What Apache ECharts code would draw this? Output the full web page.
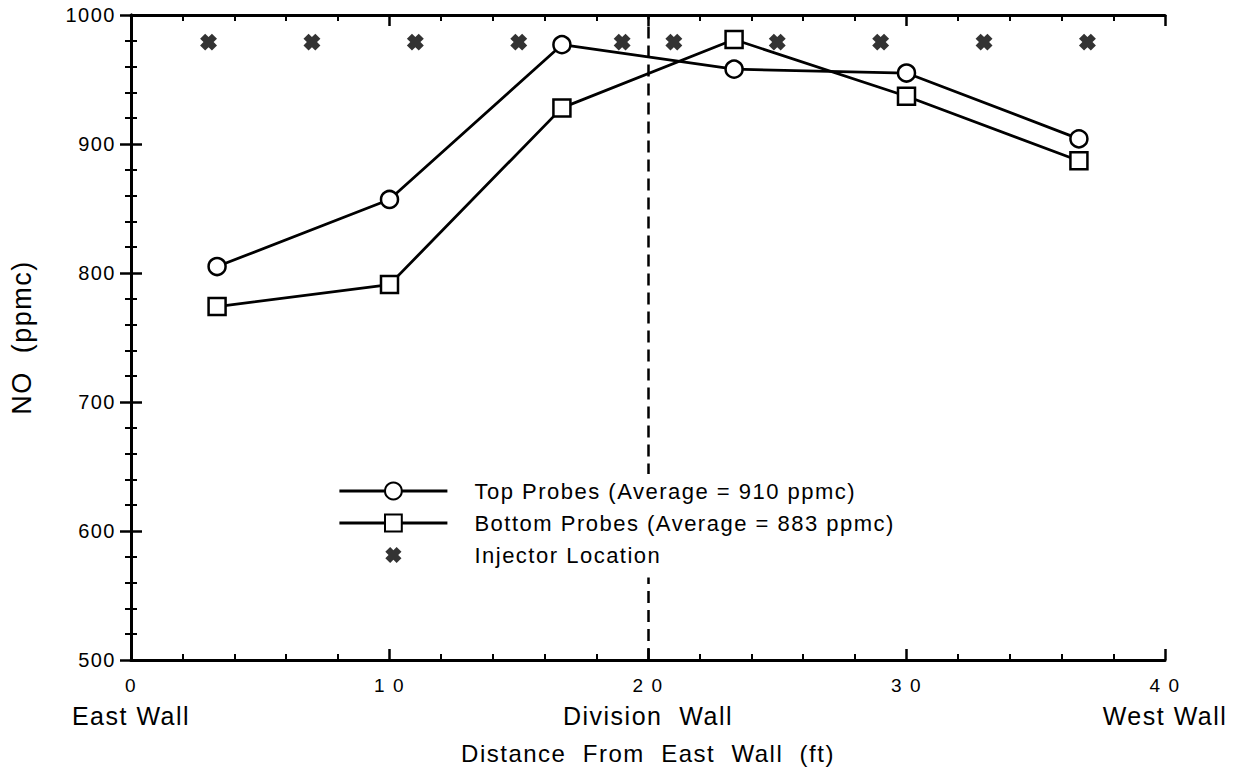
<!DOCTYPE html>
<html>
<head>
<meta charset="utf-8">
<script src="https://cdn.jsdelivr.net/npm/echarts@6/dist/echarts.min.js"></script>
<style>
  html, body { margin: 0; padding: 0; background: #fff; }
  #chart { width: 1250px; height: 774px; }
  #chart text { letter-spacing: 1.5px; }
</style>
</head>
<body>
<div id="chart"></div>
<script>
const probeX = [3.33, 10, 16.67, 23.33, 30, 36.67];
const topProbes = [805, 857, 977, 958, 955, 904];
const bottomProbes = [774, 791, 928, 981, 937, 887];
const injectorX = [3, 7, 11, 15, 19, 21, 25, 29, 33, 37];
const injectorY = [979, 979, 979, 979, 979, 979, 979, 979, 979, 979];
const divisionX = 20;
// visible stretches of the dashed division-wall line (it is interrupted by the legend box)
const divisionSpans = [[500, 564], [643, 1000]];
const xTickText = { 0: '0', 10: '1 0', 20: '2 0', 30: '3 0', 40: '4 0' };
const xWallText = { 0: 'East Wall', 20: 'Division  Wall', 40: 'West Wall' };
const seriesNames = ['Top Probes (Average = 910 ppmc)', 'Bottom Probes (Average = 883 ppmc)', 'Injector Location'];
const xAxisTitle = 'Distance  From  East  Wall  (ft)';
const yAxisTitle = 'NO  (ppmc)';

const FONT = 'Liberation Sans, Arial, sans-serif';
// bold "x" cross; outer M points pad the bounding box so the cross sits smaller inside its symbol box
const xPath = 'path://M-1.5,-1.5 Z M11.5,11.5 Z M0,3 L3,0 L5,2 L7,0 L10,3 L8,5 L10,7 L7,10 L5,8 L3,10 L0,7 L2,5 Z';

const chart = echarts.init(document.getElementById('chart'), null, { renderer: 'svg' });

const axisCommon = {
  axisLine: { show: true, lineStyle: { color: '#000', width: 3 } },
  axisTick: { show: true, inside: true, length: 11, lineStyle: { color: '#000', width: 2.5 } },
  minorTick: { show: true, splitNumber: 5, length: 6, lineStyle: { color: '#000', width: 2 } },
  splitLine: { show: false }
};

const option = {
  animation: false,
  backgroundColor: '#fff',
  textStyle: { fontFamily: FONT, color: '#000' },
  grid: { left: 131, top: 15, width: 1034, height: 645, containLabel: false },
  legend: {
    orient: 'vertical',
    left: 333,
    top: 474,
    z: 100,
    padding: [6, 8, 6, 5],
    itemWidth: 108,
    itemHeight: 21,
    itemGap: 10,
    backgroundColor: '#ffffff',
    borderWidth: 0,
    lineStyle: { width: 2.8, color: '#000' },
    textStyle: { fontFamily: FONT, fontSize: 22, lineHeight: 22, color: '#000', padding: [0, 0, 0, 22] },
    data: seriesNames
  },
  xAxis: [
    Object.assign({}, axisCommon, {
      type: 'value', min: 0, max: 40, interval: 10, position: 'bottom',
      name: xAxisTitle, nameLocation: 'middle', nameGap: 81,
      nameTextStyle: { fontFamily: FONT, fontSize: 24, color: '#000' },
      axisLabel: {
        show: true, margin: 13, fontFamily: FONT, color: '#000',
        formatter: v => {
          let s = '{t|' + (xTickText[v] !== undefined ? xTickText[v] : String(v)) + '}';
          if (xWallText[v] !== undefined) s += '\n{w|' + xWallText[v] + '}';
          return s;
        },
        rich: {
          t: { fontFamily: FONT, fontSize: 19, lineHeight: 24, color: '#000' },
          w: { fontFamily: FONT, fontSize: 25, lineHeight: 38, color: '#000' }
        }
      }
    }),
    Object.assign({}, axisCommon, {
      type: 'value', min: 0, max: 40, interval: 10, position: 'top',
      axisLabel: { show: false }
    })
  ],
  yAxis: [
    Object.assign({}, axisCommon, {
      type: 'value', min: 500, max: 1000, interval: 100, position: 'left',
      name: yAxisTitle, nameLocation: 'middle', nameGap: 96, nameRotate: 90,
      nameTextStyle: { fontFamily: FONT, fontSize: 27, color: '#000' },
      axisLabel: { show: true, margin: 15, fontFamily: FONT, fontSize: 20, color: '#000', formatter: v => String(v) }
    }),
    Object.assign({}, axisCommon, {
      type: 'value', min: 500, max: 1000, interval: 100, position: 'right',
      axisLabel: { show: false }
    })
  ],
  series: [
    {
      name: seriesNames[0], type: 'line',
      data: probeX.map((x, i) => [x, topProbes[i]]),
      symbol: 'circle', symbolSize: 17,
      lineStyle: { color: '#000', width: 2.8 },
      itemStyle: { color: '#fff', borderColor: '#000', borderWidth: 2.5 },
      z: 3
    },
    {
      name: seriesNames[1], type: 'line',
      data: probeX.map((x, i) => [x, bottomProbes[i]]),
      symbol: 'rect', symbolSize: 17,
      lineStyle: { color: '#000', width: 2.8 },
      itemStyle: { color: '#fff', borderColor: '#000', borderWidth: 2.5 },
      z: 3,
      markLine: {
        silent: true, symbol: ['none', 'none'], label: { show: false },
        lineStyle: { color: '#000', type: [12, 7], width: 2.5 },
        data: divisionSpans.map(s => [{ coord: [divisionX, s[0]] }, { coord: [divisionX, s[1]] }])
      }
    },
    {
      name: seriesNames[2], type: 'scatter',
      data: injectorX.map((x, i) => [x, injectorY[i]]),
      symbol: xPath, symbolSize: 22,
      itemStyle: { color: '#000' },
      z: 4
    }
  ]
};
chart.setOption(option);
</script>
</body>
</html>
